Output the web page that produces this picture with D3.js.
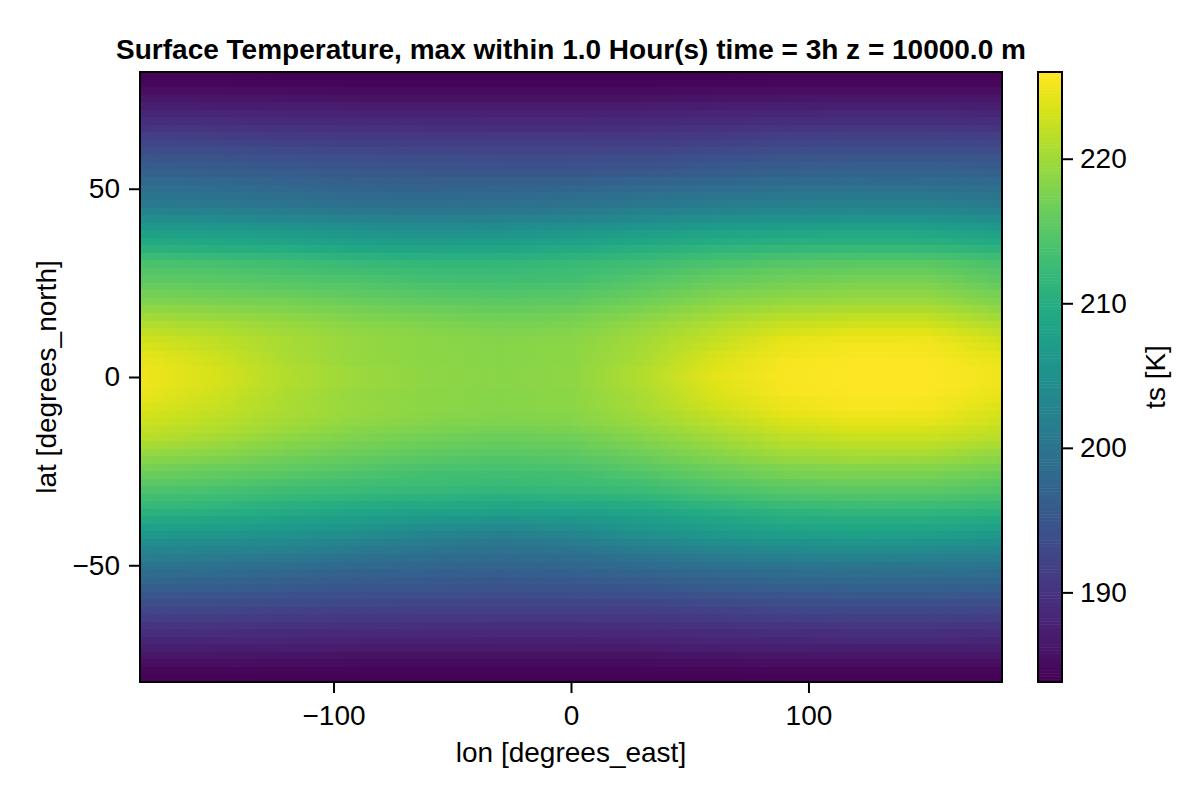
<!DOCTYPE html>
<html>
<head>
<meta charset="utf-8">
<script src="https://cdn.jsdelivr.net/npm/d3@7"></script>
<style>
  body { margin: 0; background: #fff; }
  text { font-family: "Liberation Sans", sans-serif; fill: #000; }
</style>
</head>
<body>
<div id="chart"></div>
<script>
const titleText = 'Surface Temperature, max within 1.0 Hour(s) time = 3h z = 10000.0 m';
const lonTicks = [-100, 0, 100];
const latTicks = [-50, 0, 50];
const tempTicks = [190, 200, 210, 220];
const tempRange = [183.8, 226];
const lons = [-180, -150, -120, -90, -60, -30, 0, 30, 60, 90, 120, 150, 180];
const lats = [80, 78, 76, 74, 72, 70, 68, 66, 64, 62, 60, 58, 56, 54, 52, 50, 48, 46, 44, 42, 40, 38, 36, 34, 32, 30, 28, 26, 24, 22, 20, 18, 16, 14, 12, 10, 8, 6, 4, 2, 0,
  -2, -4, -6, -8, -10, -12, -14, -16, -18, -20, -22, -24, -26, -28, -30, -32, -34, -36, -38, -40, -42, -44, -46, -48, -50, -52, -54, -56, -58, -60, -62, -64, -66, -68, -70, -72, -74, -76, -78, -80];

// ts in K, one row per entry of lats, one column per entry of lons
const tempRows = [
  [184.2,184.2,184.1,184.1,184.0,184.0,184.0,184.0,184.1,184.2,184.2,184.2,184.2],
  [184.6,184.5,184.4,184.4,184.3,184.3,184.3,184.3,184.4,184.6,184.6,184.6,184.6],
  [185.3,185.3,185.2,185.1,185.0,185.0,185.0,185.0,185.2,185.3,185.4,185.4,185.3],
  [186.3,186.2,186.0,185.9,185.9,185.8,185.8,185.9,186.1,186.2,186.3,186.3,186.3],
  [187.3,187.2,187.1,186.9,186.9,186.8,186.8,186.9,187.1,187.3,187.4,187.4,187.3],
  [188.4,188.3,188.0,187.9,187.8,187.7,187.7,187.8,188.1,188.3,188.5,188.5,188.4],
  [189.3,189.2,188.9,188.7,188.6,188.5,188.5,188.6,188.9,189.3,189.4,189.4,189.3],
  [190.3,190.2,189.9,189.7,189.5,189.4,189.4,189.5,189.9,190.3,190.5,190.5,190.3],
  [191.5,191.3,190.9,190.7,190.5,190.4,190.4,190.5,191.0,191.4,191.6,191.6,191.5],
  [192.6,192.4,192.0,191.7,191.5,191.4,191.4,191.5,192.0,192.6,192.8,192.8,192.6],
  [193.8,193.6,193.2,192.9,192.7,192.5,192.5,192.7,193.2,193.8,194.0,194.0,193.8],
  [194.9,194.6,194.1,193.8,193.6,193.4,193.4,193.6,194.2,194.8,195.1,195.1,194.9],
  [195.9,195.6,195.1,194.7,194.5,194.3,194.3,194.5,195.2,195.8,196.1,196.1,195.9],
  [196.9,196.6,196.0,195.5,195.3,195.2,195.2,195.5,196.2,196.9,197.2,197.2,196.9],
  [198.0,197.7,197.0,196.4,196.2,196.2,196.4,197.0,197.6,198.1,198.4,198.3,198.0],
  [199.1,198.7,198.0,197.3,197.1,197.2,197.6,198.2,198.9,199.3,199.5,199.4,199.1],
  [200.1,199.7,199.0,198.2,198.1,198.3,198.8,199.4,200.2,200.6,200.8,200.7,200.1],
  [201.1,200.7,200.0,199.2,199.1,199.3,199.9,200.6,201.4,201.9,202.1,202.0,201.1],
  [202.6,202.2,201.5,200.7,200.4,200.6,201.2,202.1,202.9,203.4,203.6,203.5,202.6],
  [204.4,204.0,203.3,202.5,202.1,202.3,202.9,203.9,204.7,205.2,205.5,205.4,204.4],
  [206.3,205.9,205.2,204.3,203.9,204.1,204.7,205.7,206.6,207.1,207.4,207.3,206.3],
  [207.9,207.5,206.9,205.9,205.5,205.7,206.4,207.4,208.4,208.9,209.2,209.1,207.9],
  [209.3,208.9,208.3,207.3,206.9,207.1,207.8,208.8,209.8,210.3,210.6,210.5,209.3],
  [210.9,210.5,209.9,209.0,208.6,208.7,209.4,210.4,211.4,211.9,212.2,212.1,210.9],
  [212.5,212.1,211.5,210.7,210.3,210.3,210.9,211.8,212.8,213.5,213.8,213.8,212.5],
  [213.9,213.5,213.0,212.3,211.8,211.8,212.3,213.1,214.1,214.9,215.3,215.3,213.9],
  [214.7,214.3,213.7,213.1,212.6,212.4,212.8,213.8,215.0,215.8,216.2,216.2,214.7],
  [215.4,215.0,214.5,214.0,213.3,213.0,213.3,214.5,215.9,216.7,217.1,217.1,215.4],
  [216.2,215.8,215.3,214.8,214.1,213.7,214.0,215.3,216.7,217.5,218.0,218.0,216.2],
  [217.1,216.7,216.2,215.6,214.9,214.5,214.8,216.1,217.6,218.4,218.9,218.8,217.1],
  [217.9,217.5,217.1,216.4,215.7,215.3,215.6,216.9,218.4,219.3,219.7,219.6,217.9],
  [219.0,218.5,217.9,217.2,216.5,216.1,216.4,217.7,219.3,220.3,220.8,220.8,219.0],
  [220.1,219.5,218.8,217.9,217.2,216.8,217.1,218.5,220.2,221.4,221.9,221.9,220.1],
  [221.2,220.4,219.5,218.5,217.8,217.4,217.7,219.2,220.9,222.4,223.0,223.0,221.2],
  [222.1,221.1,220.0,219.0,218.3,217.9,218.2,219.7,221.6,223.3,224.1,224.1,222.1],
  [223.0,221.8,220.4,219.3,218.6,218.2,218.5,220.1,222.2,224.2,225.0,224.9,223.0],
  [223.6,222.2,220.5,219.4,218.7,218.3,218.6,220.3,222.7,224.6,225.4,225.3,223.6],
  [224.2,222.6,220.7,219.4,218.6,218.3,218.6,220.5,223.2,225.0,225.6,225.5,224.2],
  [224.6,223.0,220.8,219.4,218.7,218.4,218.7,220.7,223.6,225.4,225.8,225.8,224.6],
  [224.9,223.3,221.0,219.6,218.8,218.5,218.8,221.0,224.0,225.5,226.0,226.0,224.9],
  [225.0,223.4,221.1,219.6,218.8,218.5,218.8,221.1,224.2,225.6,226.0,226.0,225.0],
  [224.9,223.3,221.0,219.6,218.8,218.5,218.8,221.0,224.0,225.5,226.0,226.0,224.9],
  [224.6,223.0,220.8,219.4,218.7,218.4,218.7,220.7,223.6,225.4,225.8,225.8,224.6],
  [224.2,222.6,220.7,219.4,218.6,218.3,218.6,220.5,223.2,225.0,225.6,225.5,224.2],
  [223.8,222.4,220.7,219.5,218.7,218.3,218.6,220.4,222.8,224.8,225.6,225.5,223.8],
  [223.3,222.0,220.5,219.3,218.5,218.1,218.4,220.0,222.2,224.2,225.1,225.0,223.3],
  [222.8,221.7,220.2,219.0,218.2,217.8,218.1,219.6,221.6,223.4,224.3,224.2,222.8],
  [222.1,221.0,219.6,218.4,217.6,217.1,217.5,219.0,220.8,222.6,223.4,223.3,222.1],
  [221.7,220.4,219.0,217.8,217.0,216.5,216.9,218.3,220.1,221.8,222.7,222.6,221.7],
  [220.5,219.5,218.2,217.2,216.3,215.8,216.2,217.6,219.3,220.9,221.7,221.6,220.5],
  [219.4,218.6,217.5,216.5,215.7,215.2,215.6,216.9,218.5,220.1,220.7,220.6,219.4],
  [218.4,217.7,216.6,215.7,214.9,214.4,214.8,216.1,217.6,219.1,219.6,219.5,218.4],
  [217.3,216.6,215.8,214.9,214.1,213.7,214.1,215.2,216.7,218.0,218.4,218.3,217.3],
  [216.3,215.7,214.9,214.1,213.3,213.0,213.3,214.3,215.8,217.1,217.5,217.4,216.3],
  [215.3,214.8,213.9,213.2,212.7,212.4,212.7,213.4,214.9,216.1,216.5,216.4,215.4],
  [214.2,213.8,212.9,212.4,212.1,211.8,212.0,212.5,214.0,215.1,215.4,215.3,214.5],
  [213.2,212.8,211.9,211.2,210.8,210.5,210.7,211.3,212.7,213.9,214.2,214.1,213.4],
  [212.0,211.5,210.6,209.8,209.2,209.0,209.2,209.8,211.2,212.4,212.8,212.7,212.0],
  [210.8,210.2,209.4,208.5,207.8,207.5,207.7,208.4,209.7,210.9,211.4,211.3,210.7],
  [209.2,208.8,208.0,207.1,206.1,205.6,206.0,207.2,208.5,209.7,210.1,209.9,209.2],
  [207.7,207.4,206.7,205.7,204.5,203.8,204.5,206.0,207.4,208.5,208.9,208.7,207.8],
  [206.1,205.9,205.3,204.3,202.9,201.9,202.9,204.8,206.2,207.3,207.6,207.4,206.3],
  [204.4,204.2,203.6,202.5,201.3,200.5,201.3,203.0,204.5,205.5,205.8,205.6,204.6],
  [203.0,202.7,202.1,201.0,200.0,199.4,200.0,201.4,202.8,203.7,204.0,203.9,203.2],
  [201.5,201.2,200.5,199.5,198.7,198.3,198.8,199.9,201.0,201.8,202.1,202.0,201.5],
  [200.0,199.6,198.9,198.0,197.5,197.3,197.6,198.4,199.3,200.0,200.3,200.2,200.0],
  [198.8,198.4,197.7,196.9,196.5,196.3,196.5,197.2,198.1,198.8,199.1,199.0,198.8],
  [197.6,197.3,196.6,195.9,195.5,195.3,195.5,196.1,196.9,197.6,197.9,197.8,197.6],
  [196.3,196.0,195.5,195.0,194.7,194.5,194.6,195.0,195.7,196.2,196.5,196.5,196.3],
  [195.1,194.8,194.3,194.0,193.7,193.5,193.6,193.9,194.4,195.0,195.3,195.3,195.1],
  [193.8,193.6,193.2,192.9,192.7,192.5,192.5,192.7,193.2,193.8,194.0,194.0,193.8],
  [192.6,192.4,192.0,191.7,191.5,191.4,191.4,191.5,192.0,192.6,192.8,192.8,192.6],
  [191.5,191.3,190.9,190.7,190.5,190.4,190.4,190.5,191.0,191.4,191.6,191.6,191.5],
  [190.3,190.2,189.9,189.7,189.5,189.4,189.4,189.5,189.9,190.3,190.5,190.5,190.3],
  [189.3,189.2,188.9,188.7,188.6,188.5,188.5,188.6,188.9,189.3,189.4,189.4,189.3],
  [188.4,188.3,188.0,187.9,187.8,187.7,187.7,187.8,188.1,188.3,188.5,188.5,188.4],
  [187.3,187.2,187.1,186.9,186.9,186.8,186.8,186.9,187.1,187.3,187.4,187.4,187.3],
  [186.3,186.2,186.0,185.9,185.9,185.8,185.8,185.9,186.1,186.2,186.3,186.3,186.3],
  [185.3,185.3,185.2,185.1,185.0,185.0,185.0,185.0,185.2,185.3,185.4,185.4,185.3],
  [184.6,184.5,184.4,184.4,184.3,184.3,184.3,184.3,184.4,184.6,184.6,184.6,184.6],
  [184.2,184.2,184.1,184.1,184.0,184.0,184.0,184.0,184.1,184.2,184.2,184.2,184.2],
];

const plot = { left: 140, right: 1002, top: 72, bottom: 682 };
const bar = { left: 1038, right: 1062 };
const minus = d => String(d).replace('-', '\u2212');

const svg = d3
  .select('#chart')
  .append('svg')
  .attr('width', 1200)
  .attr('height', 800);

const xScale = d3.scaleLinear().domain([-181.5, 181.5]).range([plot.left, plot.right]);
const yScale = d3.scaleLinear().domain([-81, 81]).range([plot.bottom, plot.top]);
const tempScale = d3.scaleLinear().domain(tempRange).range([plot.bottom, plot.top]);
const colour = d3.scaleSequential(d3.interpolateViridis).domain(tempRange);

// One gradient per latitude band so the colour runs smoothly along the longitudes
const defs = svg.append('defs');
lats.forEach((lat, i) => {
  defs
    .append('linearGradient')
    .attr('id', `band-${i}`)
    .attr('gradientUnits', 'userSpaceOnUse')
    .attr('x1', xScale(lons[0]))
    .attr('x2', xScale(lons[lons.length - 1]))
    .attr('y1', 0)
    .attr('y2', 0)
    .selectAll('stop')
    .data(tempRows[i])
    .enter()
    .append('stop')
    .attr('offset', (d, j) => (lons[j] - lons[0]) / (lons[lons.length - 1] - lons[0]))
    .attr('stop-color', d => colour(d));
});

svg
  .append('g')
  .selectAll('rect')
  .data(lats)
  .enter()
  .append('rect')
  .attr('x', plot.left)
  .attr('width', plot.right - plot.left)
  .attr('y', d => yScale(d + 1))
  .attr('height', d => yScale(d - 1) - yScale(d + 1))
  .attr('shape-rendering', 'crispEdges')
  .attr('fill', (d, i) => `url(#band-${i})`);

// Colour bar
const barSteps = d3.range(tempRange[0], tempRange[1], 0.2);
svg
  .append('g')
  .selectAll('rect')
  .data(barSteps)
  .enter()
  .append('rect')
  .attr('x', bar.left)
  .attr('width', bar.right - bar.left)
  .attr('y', d => tempScale(d + 0.2))
  .attr('height', d => tempScale(d) - tempScale(d + 0.2) + 0.5)
  .attr('fill', d => colour(d + 0.1));

function styleAxis(g) {
  g.select('.domain').remove();
  g.selectAll('.tick line').attr('stroke', '#000').attr('stroke-width', 2);
  g.selectAll('.tick text').style('font-size', '28px').attr('fill', '#000');
}

svg
  .append('g')
  .attr('transform', `translate(0,${plot.bottom})`)
  .call(d3.axisBottom(xScale).tickValues(lonTicks).tickFormat(minus).tickSize(11).tickPadding(12))
  .call(styleAxis);

svg
  .append('g')
  .attr('transform', `translate(${plot.left},0)`)
  .call(d3.axisLeft(yScale).tickValues(latTicks).tickFormat(minus).tickSize(11).tickPadding(9))
  .call(styleAxis);

svg
  .append('g')
  .attr('transform', `translate(${bar.right},0)`)
  .call(d3.axisRight(tempScale).tickValues(tempTicks).tickSize(11).tickPadding(7))
  .call(styleAxis);

// Frames on top of the cells
[[plot.left, plot.right], [bar.left, bar.right]].forEach(([x0, x1]) => {
  svg
    .append('rect')
    .attr('x', x0)
    .attr('y', plot.top)
    .attr('width', x1 - x0)
    .attr('height', plot.bottom - plot.top)
    .attr('fill', 'none')
    .attr('stroke', '#000')
    .attr('stroke-width', 2);
});

svg
  .append('text')
  .attr('x', (plot.left + plot.right) / 2)
  .attr('y', 59)
  .style('text-anchor', 'middle')
  .style('font-size', '28px')
  .style('font-weight', 'bold')
  .text(titleText);

svg
  .append('text')
  .attr('x', (plot.left + plot.right) / 2)
  .attr('y', 762)
  .style('text-anchor', 'middle')
  .style('font-size', '28px')
  .text('lon [degrees_east]');

svg
  .append('text')
  .attr('transform', `translate(56,${(plot.top + plot.bottom) / 2}) rotate(-90)`)
  .style('text-anchor', 'middle')
  .style('font-size', '28px')
  .text('lat [degrees_north]');

svg
  .append('text')
  .attr('transform', `translate(1165,${(plot.top + plot.bottom) / 2}) rotate(-90)`)
  .style('text-anchor', 'middle')
  .style('font-size', '28px')
  .text('ts [K]');
</script>
</body>
</html>
